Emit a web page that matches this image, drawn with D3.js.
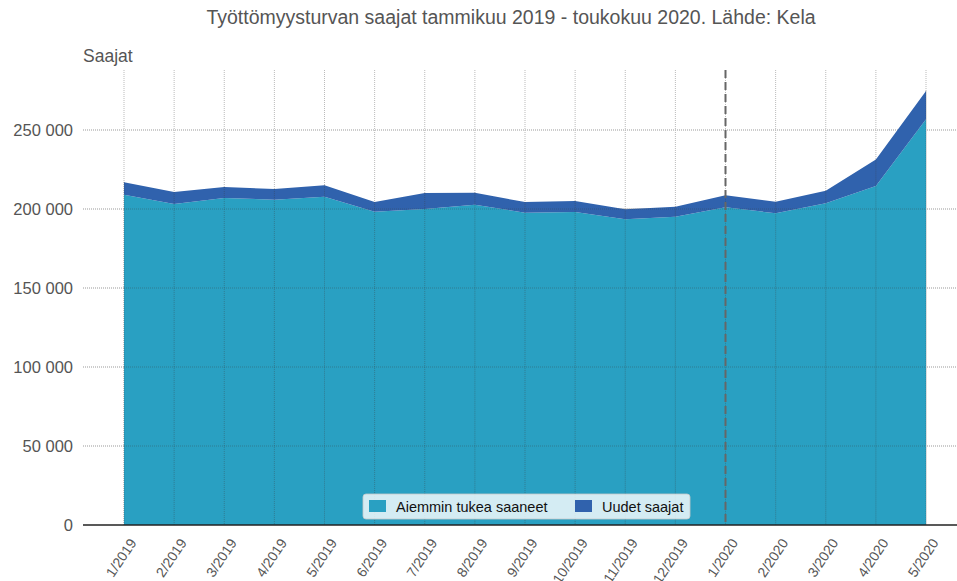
<!DOCTYPE html>
<html>
<head>
<meta charset="utf-8">
<script src="https://cdn.jsdelivr.net/npm/d3@7"></script>
<style>
  body { margin: 0; background: #fff; }
  text { font-family: "Liberation Sans", Arial, sans-serif; }
</style>
</head>
<body>
<script>
const months = ['1/2019', '2/2019', '3/2019', '4/2019', '5/2019', '6/2019', '7/2019', '8/2019',
  '9/2019', '10/2019', '11/2019', '12/2019', '1/2020', '2/2020', '3/2020', '4/2020', '5/2020'];

// Aiemmin tukea saaneet
const previous = [209000, 203200, 207000, 205900, 207800, 198300, 200000, 202700,
  197700, 198100, 193500, 195100, 201100, 197300, 203600, 214600, 256800];

// Uudet saajat
const newcomers = [8000, 7500, 6900, 6700, 7200, 6100, 10100, 7600,
  6700, 7000, 6300, 6400, 7600, 7300, 8000, 16800, 17900];

const yTicks = [0, 50000, 100000, 150000, 200000, 250000];
const seriesNames = ['Aiemmin tukea saaneet', 'Uudet saajat'];
const seriesColors = ['#29a0c2', '#3062ad'];
const markerMonth = '1/2020';

const Constants = {
  width: 957,
  height: 581,
  plotLeft: 83,
  plotRight: 957,
  plotTop: 70,
  plotBottom: 525,
  firstX: 124,
  lastX: 926,
  textColor: '#555',
};

const svg = d3.select('body')
  .append('svg')
  .attr('width', Constants.width)
  .attr('height', Constants.height);

const x = d3.scalePoint()
  .domain(months)
  .range([Constants.firstX, Constants.lastX]);

const y = d3.scaleLinear()
  .domain([0, 250000])
  .range([Constants.plotBottom, 130]);

const rows = months.map((m, i) => ({ month: m, prev: previous[i], uusi: newcomers[i] }));
const stacked = d3.stack().keys(['prev', 'uusi'])(rows);

// Horizontal grid
svg.append('g')
  .selectAll('line')
  .data(yTicks.filter(t => t > 0))
  .enter()
  .append('line')
  .attr('x1', Constants.plotLeft)
  .attr('x2', Constants.plotRight)
  .attr('y1', d => y(d))
  .attr('y2', d => y(d))
  .style('stroke', '#999')
  .style('stroke-width', 1)
  .style('stroke-dasharray', '1,1');

// Vertical grid
svg.append('g')
  .selectAll('line')
  .data(months)
  .enter()
  .append('line')
  .attr('x1', d => x(d))
  .attr('x2', d => x(d))
  .attr('y1', Constants.plotTop)
  .attr('y2', Constants.plotBottom)
  .style('stroke', '#bbb')
  .style('stroke-width', 1)
  .style('stroke-dasharray', '1,1');

// Areas
const area = d3.area()
  .x(d => x(d.data.month))
  .y0(d => y(d[0]))
  .y1(d => y(d[1]));

svg.append('g')
  .selectAll('path')
  .data(stacked)
  .enter()
  .append('path')
  .attr('d', area)
  .style('fill', (d, i) => seriesColors[i]);

// Grid lines shown faintly through the areas
svg.append('g')
  .selectAll('line')
  .data(rows)
  .enter()
  .append('line')
  .attr('x1', d => x(d.month))
  .attr('x2', d => x(d.month))
  .attr('y1', d => y(d.prev + d.uusi))
  .attr('y2', Constants.plotBottom)
  .style('stroke', 'rgba(60,60,60,0.35)')
  .style('stroke-width', 1)
  .style('stroke-dasharray', '1,1');

svg.append('g')
  .selectAll('line')
  .data(yTicks.filter(t => t > 0 && t <= 200000))
  .enter()
  .append('line')
  .attr('x1', Constants.firstX)
  .attr('x2', Constants.lastX)
  .attr('y1', d => y(d))
  .attr('y2', d => y(d))
  .style('stroke', 'rgba(60,60,60,0.35)')
  .style('stroke-dasharray', '1,1');

// Marker line at 1/2020
svg.append('line')
  .attr('x1', x(markerMonth))
  .attr('x2', x(markerMonth))
  .attr('y1', Constants.plotTop)
  .attr('y2', Constants.plotBottom)
  .style('stroke', '#666')
  .style('stroke-width', 2)
  .style('stroke-dasharray', '8,4');

// Baseline
svg.append('line')
  .attr('x1', Constants.plotLeft)
  .attr('x2', Constants.plotRight)
  .attr('y1', y(0))
  .attr('y2', y(0))
  .style('stroke', '#222')
  .style('stroke-width', 1.5);

// Y tick labels
const fmt = v => d3.format(',')(v).replace(/,/g, ' ');
svg.append('g')
  .selectAll('text')
  .data(yTicks)
  .enter()
  .append('text')
  .attr('x', 73)
  .attr('y', d => y(d))
  .attr('text-anchor', 'end')
  .attr('dominant-baseline', 'central')
  .style('font-size', '16.5px')
  .style('fill', Constants.textColor)
  .text(fmt);

// X tick labels
svg.append('g')
  .selectAll('text')
  .data(months)
  .enter()
  .append('text')
  .attr('text-anchor', 'end')
  .attr('transform', d => `translate(${x(d) + 9}, ${540}) rotate(-56)`)
  .attr('dominant-baseline', 'central')
  .style('font-size', '14px')
  .style('fill', Constants.textColor)
  .text(d => d);

// Title
svg.append('text')
  .attr('x', 511)
  .attr('y', 24)
  .attr('text-anchor', 'middle')
  .style('font-size', '19.5px')
  .style('fill', Constants.textColor)
  .text('Työttömyysturvan saajat tammikuu 2019 - toukokuu 2020. Lähde: Kela');

// Axis title
svg.append('text')
  .attr('x', 83)
  .attr('y', 62)
  .style('font-size', '17.5px')
  .style('fill', Constants.textColor)
  .text('Saajat');

// Legend
const legend = svg.append('g').attr('transform', 'translate(363, 494)');
legend.append('rect')
  .attr('width', 327)
  .attr('height', 25)
  .attr('rx', 3)
  .style('fill', 'rgba(255,255,255,0.8)')
  .style('stroke', 'rgba(200,200,200,0.8)');

const legendX = [6, 212];
legend.selectAll('.item')
  .data(seriesNames)
  .enter()
  .append('g')
  .attr('transform', (d, i) => `translate(${legendX[i]}, 0)`)
  .each(function (d, i) {
    const g = d3.select(this);
    g.append('rect')
      .attr('y', 6)
      .attr('width', 17)
      .attr('height', 12)
      .style('fill', seriesColors[i]);
    g.append('text')
      .attr('x', 27)
      .attr('y', 13)
      .attr('dominant-baseline', 'central')
      .style('font-size', '14.5px')
      .style('fill', '#111')
      .text(d);
  });
</script>
</body>
</html>
